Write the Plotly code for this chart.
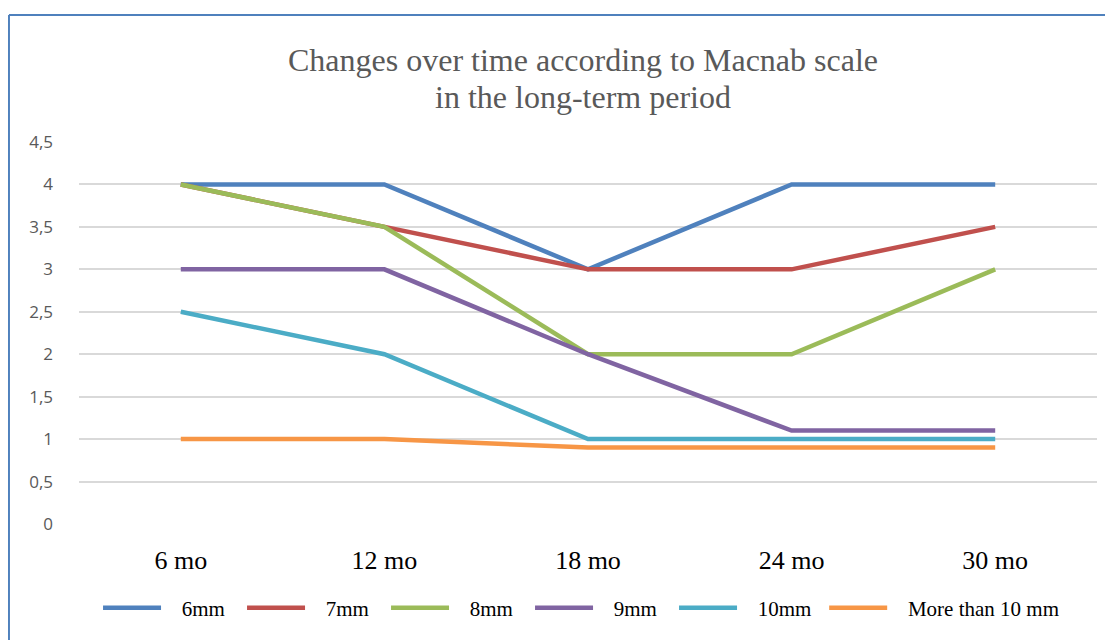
import plotly.graph_objects as go

categories = ["6 mo", "12 mo", "18 mo", "24 mo", "30 mo"]
s_6mm = [4, 4, 3, 4, 4]
s_7mm = [4, 3.5, 3, 3, 3.5]
s_8mm = [4, 3.5, 2, 2, 3]
s_9mm = [3, 3, 2, 1.1, 1.1]
s_10mm = [2.5, 2, 1, 1, 1]
s_gt10 = [1, 1, 0.9, 0.9, 0.9]

title_lines = ["Changes over time according to Macnab scale", "in the long-term period"]

series = [
    ("6mm", s_6mm, "#4F81BD", "legend"),
    ("7mm", s_7mm, "#C0504D", "legend"),
    ("8mm", s_8mm, "#9BBB59", "legend"),
    ("9mm", s_9mm, "#8064A2", "legend"),
    ("10mm", s_10mm, "#4BACC6", "legend"),
    ("More than 10 mm", s_gt10, "#F79646", "legend2"),
]

SERIF = "'Liberation Serif', 'Times New Roman', Times, serif"
PAD = "\u00a0\u00a0\u00a0"

fig = go.Figure()
for name, vals, col, leg in series:
    fig.add_trace(go.Scatter(x=categories, y=vals, name=PAD + name, mode="lines", legend=leg,
                             line=dict(color=col, width=4.5)))

legend_common = dict(orientation="h", xanchor="left", y=-0.22, yanchor="middle",
                     itemwidth=58, font=dict(family=SERIF, size=21, color="#000000"),
                     bgcolor="rgba(0,0,0,0)")

fig.update_layout(
    width=1113, height=640,
    margin=dict(l=71, r=24, t=134, b=124, autoexpand=False),
    paper_bgcolor="white", plot_bgcolor="white",
    separators=", ",
    annotations=[
        dict(text=title_lines[0], xref="paper", yref="paper", x=0.4946, y=1.2147,
             xanchor="center", yanchor="middle", showarrow=False,
             font=dict(family=SERIF, size=32, color="#595959")),
        dict(text=title_lines[1], xref="paper", yref="paper", x=0.4946, y=1.1178,
             xanchor="center", yanchor="middle", showarrow=False,
             font=dict(family=SERIF, size=32, color="#595959")),
    ],
    xaxis=dict(range=[-0.5, 4.5], showgrid=False, zeroline=False, showline=False,
               ticks="", ticklabelstandoff=18, automargin=False,
               tickfont=dict(family=SERIF, size=26, color="#000000")),
    yaxis=dict(range=[0, 4.5], dtick=0.5, tick0=0, showgrid=True, gridcolor="#D9D9D9",
               gridwidth=1.5, zeroline=False, showline=False, ticks="", ticklabelstandoff=25,
               automargin=False,
               tickfont=dict(family="Open Sans", size=17, color="#595959")),
    legend=dict(x=0.0187, entrywidth=71, entrywidthmode="pixels", **legend_common),
    legend2=dict(x=0.732, **legend_common),
    showlegend=True,
    shapes=[
        dict(type="line", xref="paper", yref="paper", x0=-0.0688, x1=1.1, y0=1.3325, y1=1.3325,
             line=dict(color="#4F81BD", width=2)),
        dict(type="line", xref="paper", yref="paper", x0=-0.0688, x1=-0.0688, y0=1.3325, y1=-0.35,
             line=dict(color="#4F81BD", width=2)),
    ],
)

fig.write_html("out.html")
